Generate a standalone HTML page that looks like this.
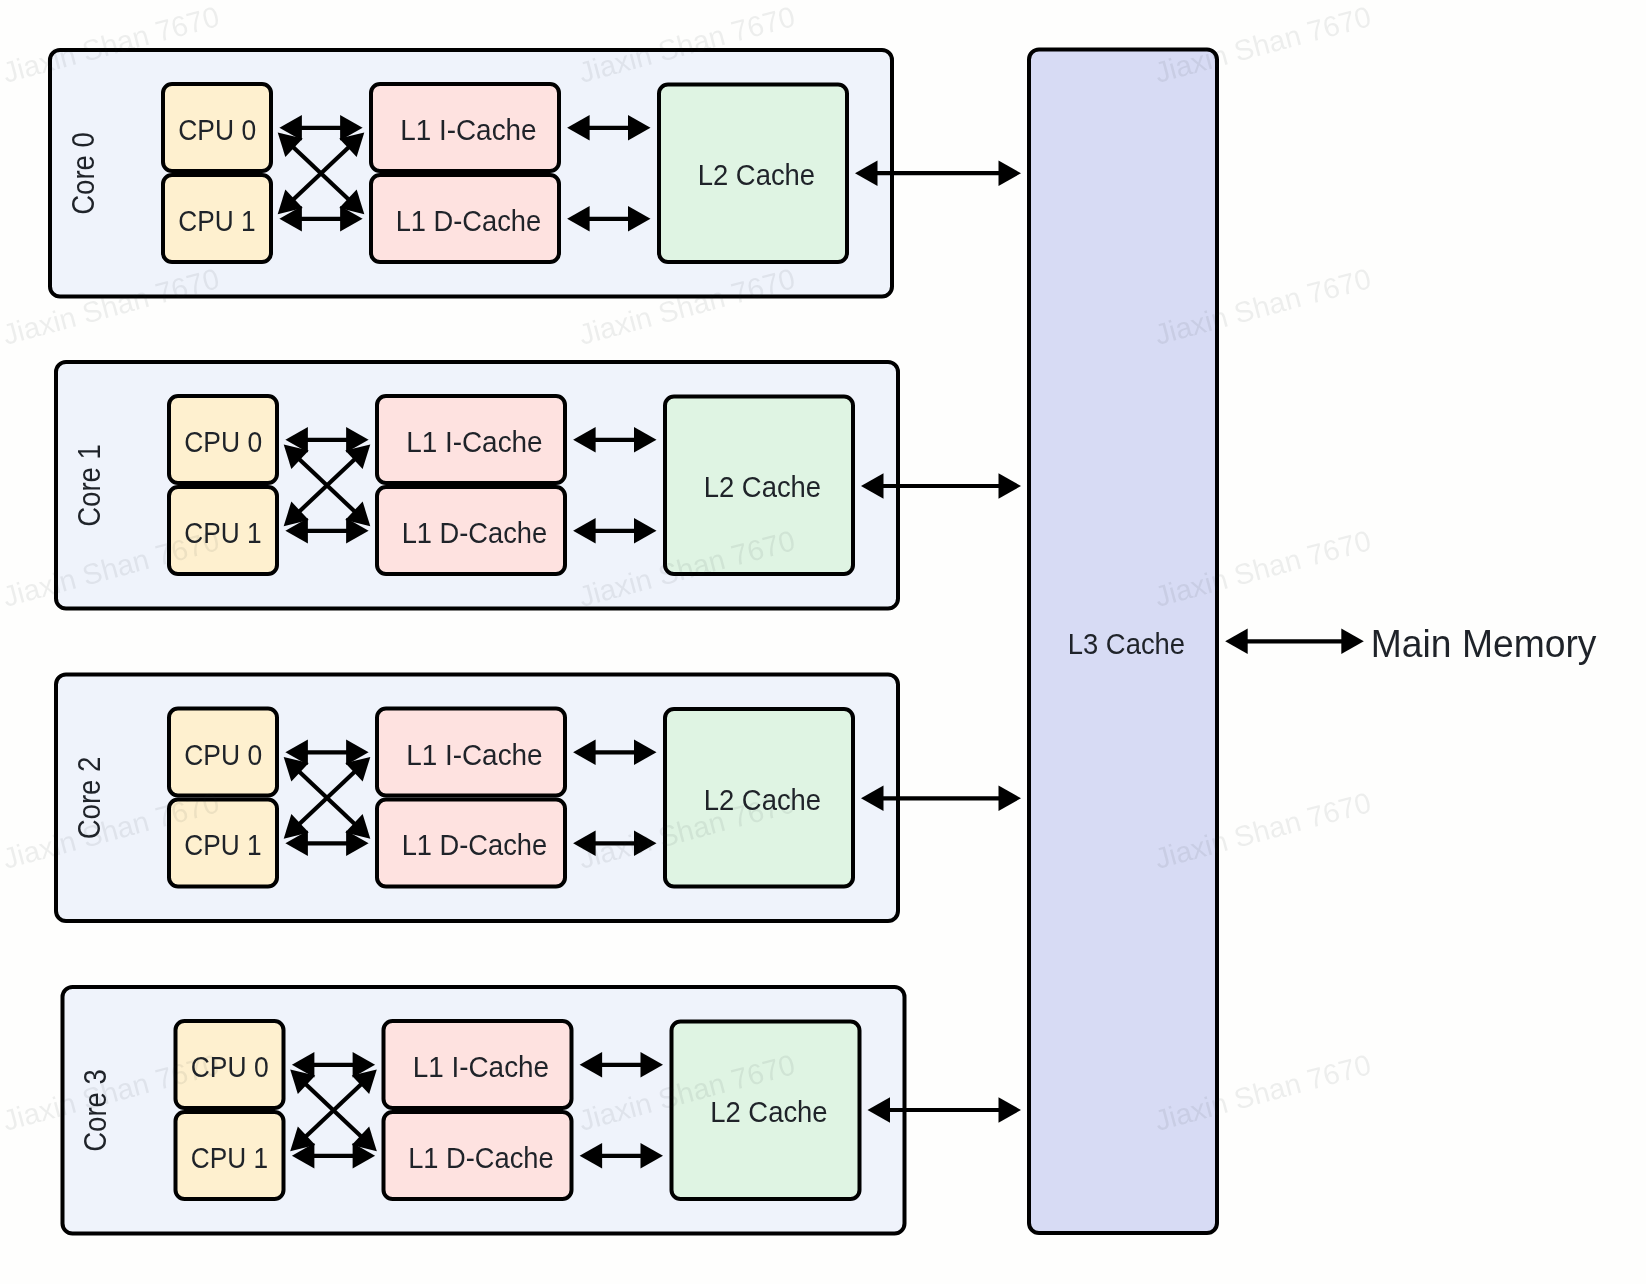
<!DOCTYPE html>
<html><head><meta charset="utf-8"><title>Cache Hierarchy</title>
<style>
html,body{margin:0;padding:0;background:#fefefd;}
body{width:1646px;height:1284px;overflow:hidden;}
svg{display:block;will-change:transform;}
text{font-family:"Liberation Sans",sans-serif;fill:#1f2329;}
</style></head><body>
<svg width="1646" height="1284" viewBox="0 0 1646 1284">
<rect x="0" y="0" width="1646" height="1284" fill="#fefefd"/>
<rect x="1029.00" y="49.50" width="188.00" height="1183.50" rx="10.00" ry="10.00" fill="#d7dbf4" stroke="#000000" stroke-width="4.0"/>
<rect x="50.00" y="50.00" width="842.00" height="246.50" rx="10.00" ry="10.00" fill="#eff3fb" stroke="#000000" stroke-width="4.0"/>
<rect x="163.00" y="84.00" width="108.00" height="87.00" rx="9.00" ry="9.00" fill="#fef0cf" stroke="#000000" stroke-width="4.0"/>
<rect x="163.00" y="175.00" width="108.00" height="87.00" rx="9.00" ry="9.00" fill="#fef0cf" stroke="#000000" stroke-width="4.0"/>
<rect x="371.00" y="84.00" width="188.00" height="87.00" rx="9.00" ry="9.00" fill="#fee2e0" stroke="#000000" stroke-width="4.0"/>
<rect x="371.00" y="175.00" width="188.00" height="87.00" rx="9.00" ry="9.00" fill="#fee2e0" stroke="#000000" stroke-width="4.0"/>
<rect x="659.00" y="84.50" width="188.00" height="177.50" rx="9.00" ry="9.00" fill="#dff4e3" stroke="#000000" stroke-width="4.0"/>
<line x1="300.90" y1="127.80" x2="341.10" y2="127.80" stroke="#000000" stroke-width="4.2"/>
<polygon points="279.40,127.80 301.90,140.50 301.90,115.10" fill="#000000"/>
<polygon points="362.60,127.80 340.10,140.50 340.10,115.10" fill="#000000"/>
<line x1="300.90" y1="218.80" x2="341.10" y2="218.80" stroke="#000000" stroke-width="4.2"/>
<polygon points="279.40,218.80 301.90,231.50 301.90,206.10" fill="#000000"/>
<polygon points="362.60,218.80 340.10,231.50 340.10,206.10" fill="#000000"/>
<line x1="293.33" y1="147.16" x2="348.67" y2="199.44" stroke="#000000" stroke-width="4.2"/>
<polygon points="277.70,132.40 285.34,157.08 302.78,138.62" fill="#000000"/>
<polygon points="364.30,214.20 339.22,207.98 356.66,189.52" fill="#000000"/>
<line x1="293.33" y1="199.44" x2="348.67" y2="147.16" stroke="#000000" stroke-width="4.2"/>
<polygon points="277.70,214.20 302.78,207.98 285.34,189.52" fill="#000000"/>
<polygon points="364.30,132.40 356.66,157.08 339.22,138.62" fill="#000000"/>
<line x1="588.60" y1="127.80" x2="629.00" y2="127.80" stroke="#000000" stroke-width="4.2"/>
<polygon points="567.10,127.80 589.60,140.50 589.60,115.10" fill="#000000"/>
<polygon points="650.50,127.80 628.00,140.50 628.00,115.10" fill="#000000"/>
<line x1="588.60" y1="218.80" x2="629.00" y2="218.80" stroke="#000000" stroke-width="4.2"/>
<polygon points="567.10,218.80 589.60,231.50 589.60,206.10" fill="#000000"/>
<polygon points="650.50,218.80 628.00,231.50 628.00,206.10" fill="#000000"/>
<line x1="876.50" y1="173.20" x2="999.50" y2="173.20" stroke="#000000" stroke-width="4.2"/>
<polygon points="855.00,173.20 877.50,185.90 877.50,160.50" fill="#000000"/>
<polygon points="1021.00,173.20 998.50,185.90 998.50,160.50" fill="#000000"/>
<text x="178.24" y="140.30" font-size="30" textLength="77.96" lengthAdjust="spacingAndGlyphs" >CPU 0</text>
<text x="178.25" y="230.70" font-size="30" textLength="77.34" lengthAdjust="spacingAndGlyphs" >CPU 1</text>
<text x="400.14" y="140.20" font-size="30" textLength="136.49" lengthAdjust="spacingAndGlyphs" >L1 I-Cache</text>
<text x="395.68" y="230.90" font-size="30" textLength="145.50" lengthAdjust="spacingAndGlyphs" >L1 D-Cache</text>
<text x="697.77" y="185.40" font-size="30" textLength="117.34" lengthAdjust="spacingAndGlyphs" >L2 Cache</text>
<text x="0" y="0" font-size="30.5" textLength="82.80" lengthAdjust="spacingAndGlyphs" transform="translate(93.50,214.84) rotate(-90)">Core 0</text>
<rect x="56.00" y="362.00" width="842.00" height="246.50" rx="10.00" ry="10.00" fill="#eff3fb" stroke="#000000" stroke-width="4.0"/>
<rect x="169.00" y="396.00" width="108.00" height="87.00" rx="9.00" ry="9.00" fill="#fef0cf" stroke="#000000" stroke-width="4.0"/>
<rect x="169.00" y="487.00" width="108.00" height="87.00" rx="9.00" ry="9.00" fill="#fef0cf" stroke="#000000" stroke-width="4.0"/>
<rect x="377.00" y="396.00" width="188.00" height="87.00" rx="9.00" ry="9.00" fill="#fee2e0" stroke="#000000" stroke-width="4.0"/>
<rect x="377.00" y="487.00" width="188.00" height="87.00" rx="9.00" ry="9.00" fill="#fee2e0" stroke="#000000" stroke-width="4.0"/>
<rect x="665.00" y="396.50" width="188.00" height="177.50" rx="9.00" ry="9.00" fill="#dff4e3" stroke="#000000" stroke-width="4.0"/>
<line x1="306.90" y1="439.80" x2="347.10" y2="439.80" stroke="#000000" stroke-width="4.2"/>
<polygon points="285.40,439.80 307.90,452.50 307.90,427.10" fill="#000000"/>
<polygon points="368.60,439.80 346.10,452.50 346.10,427.10" fill="#000000"/>
<line x1="306.90" y1="530.80" x2="347.10" y2="530.80" stroke="#000000" stroke-width="4.2"/>
<polygon points="285.40,530.80 307.90,543.50 307.90,518.10" fill="#000000"/>
<polygon points="368.60,530.80 346.10,543.50 346.10,518.10" fill="#000000"/>
<line x1="299.33" y1="459.16" x2="354.67" y2="511.44" stroke="#000000" stroke-width="4.2"/>
<polygon points="283.70,444.40 291.34,469.08 308.78,450.62" fill="#000000"/>
<polygon points="370.30,526.20 345.22,519.98 362.66,501.52" fill="#000000"/>
<line x1="299.33" y1="511.44" x2="354.67" y2="459.16" stroke="#000000" stroke-width="4.2"/>
<polygon points="283.70,526.20 308.78,519.98 291.34,501.52" fill="#000000"/>
<polygon points="370.30,444.40 362.66,469.08 345.22,450.62" fill="#000000"/>
<line x1="594.60" y1="439.80" x2="635.00" y2="439.80" stroke="#000000" stroke-width="4.2"/>
<polygon points="573.10,439.80 595.60,452.50 595.60,427.10" fill="#000000"/>
<polygon points="656.50,439.80 634.00,452.50 634.00,427.10" fill="#000000"/>
<line x1="594.60" y1="530.80" x2="635.00" y2="530.80" stroke="#000000" stroke-width="4.2"/>
<polygon points="573.10,530.80 595.60,543.50 595.60,518.10" fill="#000000"/>
<polygon points="656.50,530.80 634.00,543.50 634.00,518.10" fill="#000000"/>
<line x1="882.50" y1="486.00" x2="999.50" y2="486.00" stroke="#000000" stroke-width="4.2"/>
<polygon points="861.00,486.00 883.50,498.70 883.50,473.30" fill="#000000"/>
<polygon points="1021.00,486.00 998.50,498.70 998.50,473.30" fill="#000000"/>
<text x="184.24" y="452.30" font-size="30" textLength="77.96" lengthAdjust="spacingAndGlyphs" >CPU 0</text>
<text x="184.25" y="542.70" font-size="30" textLength="77.34" lengthAdjust="spacingAndGlyphs" >CPU 1</text>
<text x="406.14" y="452.20" font-size="30" textLength="136.49" lengthAdjust="spacingAndGlyphs" >L1 I-Cache</text>
<text x="401.68" y="542.90" font-size="30" textLength="145.50" lengthAdjust="spacingAndGlyphs" >L1 D-Cache</text>
<text x="703.77" y="497.40" font-size="30" textLength="117.34" lengthAdjust="spacingAndGlyphs" >L2 Cache</text>
<text x="0" y="0" font-size="30.5" textLength="82.80" lengthAdjust="spacingAndGlyphs" transform="translate(99.50,526.84) rotate(-90)">Core 1</text>
<rect x="56.00" y="674.50" width="842.00" height="246.50" rx="10.00" ry="10.00" fill="#eff3fb" stroke="#000000" stroke-width="4.0"/>
<rect x="169.00" y="708.50" width="108.00" height="87.00" rx="9.00" ry="9.00" fill="#fef0cf" stroke="#000000" stroke-width="4.0"/>
<rect x="169.00" y="799.50" width="108.00" height="87.00" rx="9.00" ry="9.00" fill="#fef0cf" stroke="#000000" stroke-width="4.0"/>
<rect x="377.00" y="708.50" width="188.00" height="87.00" rx="9.00" ry="9.00" fill="#fee2e0" stroke="#000000" stroke-width="4.0"/>
<rect x="377.00" y="799.50" width="188.00" height="87.00" rx="9.00" ry="9.00" fill="#fee2e0" stroke="#000000" stroke-width="4.0"/>
<rect x="665.00" y="709.00" width="188.00" height="177.50" rx="9.00" ry="9.00" fill="#dff4e3" stroke="#000000" stroke-width="4.0"/>
<line x1="306.90" y1="752.30" x2="347.10" y2="752.30" stroke="#000000" stroke-width="4.2"/>
<polygon points="285.40,752.30 307.90,765.00 307.90,739.60" fill="#000000"/>
<polygon points="368.60,752.30 346.10,765.00 346.10,739.60" fill="#000000"/>
<line x1="306.90" y1="843.30" x2="347.10" y2="843.30" stroke="#000000" stroke-width="4.2"/>
<polygon points="285.40,843.30 307.90,856.00 307.90,830.60" fill="#000000"/>
<polygon points="368.60,843.30 346.10,856.00 346.10,830.60" fill="#000000"/>
<line x1="299.33" y1="771.66" x2="354.67" y2="823.94" stroke="#000000" stroke-width="4.2"/>
<polygon points="283.70,756.90 291.34,781.58 308.78,763.12" fill="#000000"/>
<polygon points="370.30,838.70 345.22,832.48 362.66,814.02" fill="#000000"/>
<line x1="299.33" y1="823.94" x2="354.67" y2="771.66" stroke="#000000" stroke-width="4.2"/>
<polygon points="283.70,838.70 308.78,832.48 291.34,814.02" fill="#000000"/>
<polygon points="370.30,756.90 362.66,781.58 345.22,763.12" fill="#000000"/>
<line x1="594.60" y1="752.30" x2="635.00" y2="752.30" stroke="#000000" stroke-width="4.2"/>
<polygon points="573.10,752.30 595.60,765.00 595.60,739.60" fill="#000000"/>
<polygon points="656.50,752.30 634.00,765.00 634.00,739.60" fill="#000000"/>
<line x1="594.60" y1="843.30" x2="635.00" y2="843.30" stroke="#000000" stroke-width="4.2"/>
<polygon points="573.10,843.30 595.60,856.00 595.60,830.60" fill="#000000"/>
<polygon points="656.50,843.30 634.00,856.00 634.00,830.60" fill="#000000"/>
<line x1="882.50" y1="798.30" x2="999.50" y2="798.30" stroke="#000000" stroke-width="4.2"/>
<polygon points="861.00,798.30 883.50,811.00 883.50,785.60" fill="#000000"/>
<polygon points="1021.00,798.30 998.50,811.00 998.50,785.60" fill="#000000"/>
<text x="184.24" y="764.80" font-size="30" textLength="77.96" lengthAdjust="spacingAndGlyphs" >CPU 0</text>
<text x="184.25" y="855.20" font-size="30" textLength="77.34" lengthAdjust="spacingAndGlyphs" >CPU 1</text>
<text x="406.14" y="764.70" font-size="30" textLength="136.49" lengthAdjust="spacingAndGlyphs" >L1 I-Cache</text>
<text x="401.68" y="855.40" font-size="30" textLength="145.50" lengthAdjust="spacingAndGlyphs" >L1 D-Cache</text>
<text x="703.77" y="809.90" font-size="30" textLength="117.34" lengthAdjust="spacingAndGlyphs" >L2 Cache</text>
<text x="0" y="0" font-size="30.5" textLength="82.80" lengthAdjust="spacingAndGlyphs" transform="translate(99.50,839.34) rotate(-90)">Core 2</text>
<rect x="62.50" y="987.00" width="842.00" height="246.50" rx="10.00" ry="10.00" fill="#eff3fb" stroke="#000000" stroke-width="4.0"/>
<rect x="175.50" y="1021.00" width="108.00" height="87.00" rx="9.00" ry="9.00" fill="#fef0cf" stroke="#000000" stroke-width="4.0"/>
<rect x="175.50" y="1112.00" width="108.00" height="87.00" rx="9.00" ry="9.00" fill="#fef0cf" stroke="#000000" stroke-width="4.0"/>
<rect x="383.50" y="1021.00" width="188.00" height="87.00" rx="9.00" ry="9.00" fill="#fee2e0" stroke="#000000" stroke-width="4.0"/>
<rect x="383.50" y="1112.00" width="188.00" height="87.00" rx="9.00" ry="9.00" fill="#fee2e0" stroke="#000000" stroke-width="4.0"/>
<rect x="671.50" y="1021.50" width="188.00" height="177.50" rx="9.00" ry="9.00" fill="#dff4e3" stroke="#000000" stroke-width="4.0"/>
<line x1="313.40" y1="1064.80" x2="353.60" y2="1064.80" stroke="#000000" stroke-width="4.2"/>
<polygon points="291.90,1064.80 314.40,1077.50 314.40,1052.10" fill="#000000"/>
<polygon points="375.10,1064.80 352.60,1077.50 352.60,1052.10" fill="#000000"/>
<line x1="313.40" y1="1155.80" x2="353.60" y2="1155.80" stroke="#000000" stroke-width="4.2"/>
<polygon points="291.90,1155.80 314.40,1168.50 314.40,1143.10" fill="#000000"/>
<polygon points="375.10,1155.80 352.60,1168.50 352.60,1143.10" fill="#000000"/>
<line x1="305.83" y1="1084.16" x2="361.17" y2="1136.44" stroke="#000000" stroke-width="4.2"/>
<polygon points="290.20,1069.40 297.84,1094.08 315.28,1075.62" fill="#000000"/>
<polygon points="376.80,1151.20 351.72,1144.98 369.16,1126.52" fill="#000000"/>
<line x1="305.83" y1="1136.44" x2="361.17" y2="1084.16" stroke="#000000" stroke-width="4.2"/>
<polygon points="290.20,1151.20 315.28,1144.98 297.84,1126.52" fill="#000000"/>
<polygon points="376.80,1069.40 369.16,1094.08 351.72,1075.62" fill="#000000"/>
<line x1="601.10" y1="1064.80" x2="641.50" y2="1064.80" stroke="#000000" stroke-width="4.2"/>
<polygon points="579.60,1064.80 602.10,1077.50 602.10,1052.10" fill="#000000"/>
<polygon points="663.00,1064.80 640.50,1077.50 640.50,1052.10" fill="#000000"/>
<line x1="601.10" y1="1155.80" x2="641.50" y2="1155.80" stroke="#000000" stroke-width="4.2"/>
<polygon points="579.60,1155.80 602.10,1168.50 602.10,1143.10" fill="#000000"/>
<polygon points="663.00,1155.80 640.50,1168.50 640.50,1143.10" fill="#000000"/>
<line x1="889.00" y1="1110.00" x2="999.50" y2="1110.00" stroke="#000000" stroke-width="4.2"/>
<polygon points="867.50,1110.00 890.00,1122.70 890.00,1097.30" fill="#000000"/>
<polygon points="1021.00,1110.00 998.50,1122.70 998.50,1097.30" fill="#000000"/>
<text x="190.74" y="1077.30" font-size="30" textLength="77.96" lengthAdjust="spacingAndGlyphs" >CPU 0</text>
<text x="190.75" y="1167.70" font-size="30" textLength="77.34" lengthAdjust="spacingAndGlyphs" >CPU 1</text>
<text x="412.64" y="1077.20" font-size="30" textLength="136.49" lengthAdjust="spacingAndGlyphs" >L1 I-Cache</text>
<text x="408.18" y="1167.90" font-size="30" textLength="145.50" lengthAdjust="spacingAndGlyphs" >L1 D-Cache</text>
<text x="710.27" y="1122.40" font-size="30" textLength="117.34" lengthAdjust="spacingAndGlyphs" >L2 Cache</text>
<text x="0" y="0" font-size="30.5" textLength="82.80" lengthAdjust="spacingAndGlyphs" transform="translate(106.00,1151.84) rotate(-90)">Core 3</text>
<line x1="1246.70" y1="641.30" x2="1342.30" y2="641.30" stroke="#000000" stroke-width="4.2"/>
<polygon points="1225.20,641.30 1247.70,654.00 1247.70,628.60" fill="#000000"/>
<polygon points="1363.80,641.30 1341.30,654.00 1341.30,628.60" fill="#000000"/>
<text x="1067.77" y="653.70" font-size="30" textLength="117.34" lengthAdjust="spacingAndGlyphs" >L3 Cache</text>
<text x="1370.81" y="657.10" font-size="38.7" textLength="225.71" lengthAdjust="spacingAndGlyphs" >Main Memory</text>
<text x="0" y="0" font-size="29" transform="translate(6.10,83.00) rotate(-15)" fill="#0a1020" fill-opacity="0.075">Jiaxin Shan 7670</text>
<text x="0" y="0" font-size="29" transform="translate(582.00,83.00) rotate(-15)" fill="#0a1020" fill-opacity="0.075">Jiaxin Shan 7670</text>
<text x="0" y="0" font-size="29" transform="translate(1157.90,83.00) rotate(-15)" fill="#0a1020" fill-opacity="0.075">Jiaxin Shan 7670</text>
<text x="0" y="0" font-size="29" transform="translate(6.10,345.00) rotate(-15)" fill="#0a1020" fill-opacity="0.075">Jiaxin Shan 7670</text>
<text x="0" y="0" font-size="29" transform="translate(582.00,345.00) rotate(-15)" fill="#0a1020" fill-opacity="0.075">Jiaxin Shan 7670</text>
<text x="0" y="0" font-size="29" transform="translate(1157.90,345.00) rotate(-15)" fill="#0a1020" fill-opacity="0.075">Jiaxin Shan 7670</text>
<text x="0" y="0" font-size="29" transform="translate(6.10,607.00) rotate(-15)" fill="#0a1020" fill-opacity="0.075">Jiaxin Shan 7670</text>
<text x="0" y="0" font-size="29" transform="translate(582.00,607.00) rotate(-15)" fill="#0a1020" fill-opacity="0.075">Jiaxin Shan 7670</text>
<text x="0" y="0" font-size="29" transform="translate(1157.90,607.00) rotate(-15)" fill="#0a1020" fill-opacity="0.075">Jiaxin Shan 7670</text>
<text x="0" y="0" font-size="29" transform="translate(6.10,869.00) rotate(-15)" fill="#0a1020" fill-opacity="0.075">Jiaxin Shan 7670</text>
<text x="0" y="0" font-size="29" transform="translate(582.00,869.00) rotate(-15)" fill="#0a1020" fill-opacity="0.075">Jiaxin Shan 7670</text>
<text x="0" y="0" font-size="29" transform="translate(1157.90,869.00) rotate(-15)" fill="#0a1020" fill-opacity="0.075">Jiaxin Shan 7670</text>
<text x="0" y="0" font-size="29" transform="translate(6.10,1131.00) rotate(-15)" fill="#0a1020" fill-opacity="0.075">Jiaxin Shan 7670</text>
<text x="0" y="0" font-size="29" transform="translate(582.00,1131.00) rotate(-15)" fill="#0a1020" fill-opacity="0.075">Jiaxin Shan 7670</text>
<text x="0" y="0" font-size="29" transform="translate(1157.90,1131.00) rotate(-15)" fill="#0a1020" fill-opacity="0.075">Jiaxin Shan 7670</text>
</svg>
</body></html>
